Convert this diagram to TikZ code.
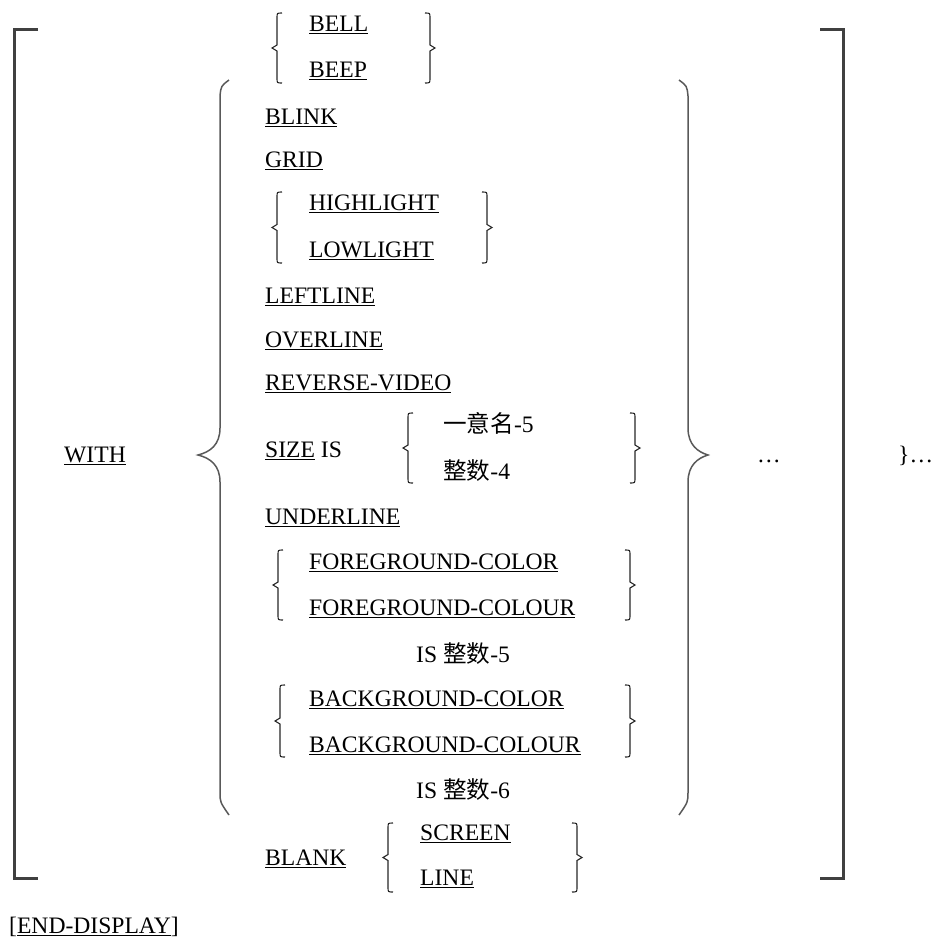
\documentclass[tikz,border=0pt]{standalone}
\usepackage{fontspec}
\setmainfont{Liberation Serif}
\newfontfamily\cjk{Noto Sans CJK SC}
\newcommand\und[1]{\setbox0\hbox{#1}\leavevmode\rlap{\rule[-2.6pt]{\wd0}{1.1pt}}\box0\relax}
\newcommand\myLbr[3]{\draw[sbr] (#1+5,#2) .. controls (#1,#2) .. (#1,#2+5) -- (#1,{(#2+#3)/2-3}) -- (#1-5,{(#2+#3)/2}) -- (#1,{(#2+#3)/2+3}) -- (#1,#3-5) .. controls (#1,#3) .. (#1+5,#3);}
\newcommand\myRbr[3]{\draw[sbr] (#1-5,#2) .. controls (#1,#2) .. (#1,#2+5) -- (#1,{(#2+#3)/2-3}) -- (#1+5,{(#2+#3)/2}) -- (#1,{(#2+#3)/2+3}) -- (#1,#3-5) .. controls (#1,#3) .. (#1-5,#3);}
\begin{document}
\begin{tikzpicture}[x=1pt,y=-1pt,
  txt/.style={anchor=west,inner sep=0pt,text height=15.6pt,text depth=0pt,font=\fontsize{23.6pt}{28pt}\selectfont},
  sbr/.style={line width=1.1pt,black!85},
  bbr/.style={line width=1.5pt,black!65},
  obr/.style={line width=3pt,black!75}]
\useasboundingbox (0,0) rectangle (934,938);
% outer brackets
\draw[obr] (38,29) -- (14,29) -- (14,878) -- (38,878);
\draw[obr] (820,29) -- (843,29) -- (843,878) -- (820,878);
% big braces
\draw[bbr] (229,80) .. controls (221,86) .. (220,96) -- (220,428) .. controls (220,445) and (210,452) .. (198,455) .. controls (210,458) and (220,465) .. (220,482) -- (220,792) .. controls (220,802) .. (229,815);
\draw[bbr] (679,80) .. controls (687,86) .. (688,96) -- (688,428) .. controls (688,445) and (698,452) .. (708,455) .. controls (698,458) and (688,465) .. (688,482) -- (688,792) .. controls (688,802) .. (679,815);
% small braces
\myLbr{277}{13}{83}\myRbr{430}{13}{83}
\myLbr{277}{192}{263}\myRbr{487}{192}{263}
\myLbr{408}{413}{483}\myRbr{635}{413}{483}
\myLbr{278}{550}{620}\myRbr{630}{550}{620}
\myLbr{280}{685}{757}\myRbr{630}{685}{757}
\myLbr{388}{823}{892}\myRbr{577}{823}{892}
% texts
\node[txt] (with) at (64,455) {\und{WITH}};
\node[txt] (bell) at (309,24) {\und{BELL}};
\node[txt] (beep) at (309,70) {\und{BEEP}};
\node[txt] (blink) at (265,117) {\und{BLINK}};
\node[txt] (grid) at (265,160) {\und{GRID}};
\node[txt] (high) at (309,203) {\und{HIGHLIGHT}};
\node[txt] (low) at (309,250) {\und{LOWLIGHT}};
\node[txt] (left) at (265,296) {\und{LEFTLINE}};
\node[txt] (over) at (265,340) {\und{OVERLINE}};
\node[txt] (rev) at (265,383) {\und{REVERSE-VIDEO}};
\node[txt] (size) at (265,450) {\und{SIZE} IS};
\node[txt] (id5) at (443,425) {{\cjk 一意名}-5};
\node[txt] (int4) at (443,472) {{\cjk 整数}-4};
\node[txt] (under) at (265,517) {\und{UNDERLINE}};
\node[txt] (fgc) at (309,562) {\und{FOREGROUND-COLOR}};
\node[txt] (fgcu) at (309,608) {\und{FOREGROUND-COLOUR}};
\node[txt] (is5) at (416,655) {IS {\cjk 整数}-5};
\node[txt] (bgc) at (309,699) {\und{BACKGROUND-COLOR}};
\node[txt] (bgcu) at (309,745) {\und{BACKGROUND-COLOUR}};
\node[txt] (is6) at (416,791) {IS {\cjk 整数}-6};
\node[txt] (blank) at (265,858) {\und{BLANK}};
\node[txt] (screen) at (420,833) {\und{SCREEN}};
\node[txt] (line) at (420,878) {\und{LINE}};
\node[txt] (dots) at (757,455) {…};
\node[txt] (rdots) at (898,455) {\}…};
\node[txt] (end) at (9,926) {[\und{END-DISPLAY}]};
\end{tikzpicture}
\end{document}
